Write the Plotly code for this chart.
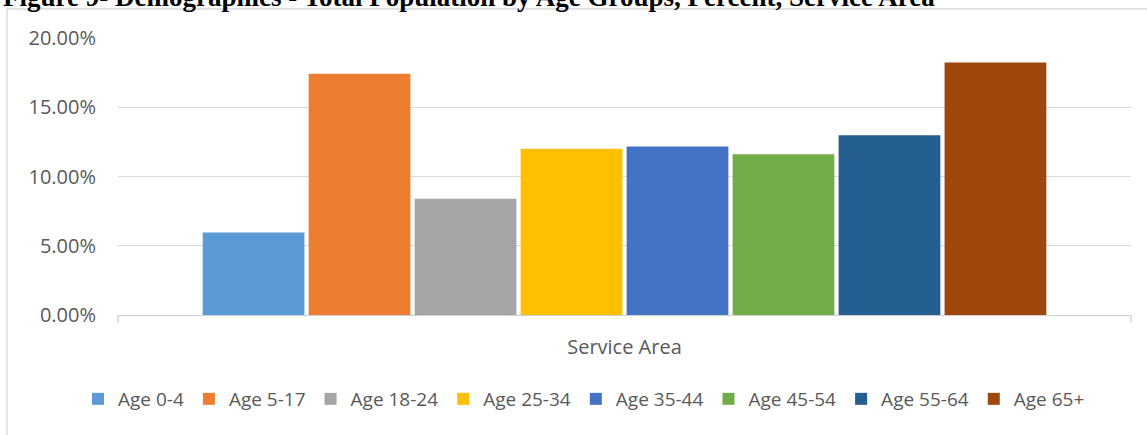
import plotly.graph_objects as go

categories = ["Service Area"]
series_names = ["Age 0-4", "Age 5-17", "Age 18-24", "Age 25-34",
                "Age 35-44", "Age 45-54", "Age 55-64", "Age 65+"]
series_values = [0.0595, 0.1741, 0.0840, 0.1200, 0.1216, 0.1160, 0.1298, 0.1823]
series_colors = ["#5B9BD5", "#ED7D31", "#A5A5A5", "#FFC000",
                 "#4472C4", "#70AD47", "#255E91", "#9E480E"]
y_ticks = [0, 0.05, 0.10, 0.15, 0.20]
title_text = "Figure 9- Demographics - Total Population by Age Groups, Percent, Service Area"

W, H = 1147, 435
L, R, T, B = 118, 16, 38, 120
pw, ph = W - L - R, H - T - B

def px_x(x):
    return (x - L) / pw

def px_y(y):
    return (H - B - y) / ph

fig = go.Figure()
for name, val, col in zip(series_names, series_values, series_colors):
    fig.add_trace(go.Bar(
        x=categories, y=[val], name=name,
        marker=dict(color=col, line=dict(width=0)),
    ))

font_family = "Open Sans, Liberation Sans, sans-serif"
txt_col = "#595959"

fig.update_layout(
    width=W, height=H,
    margin=dict(l=L, r=R, t=T, b=B, autoexpand=False),
    paper_bgcolor="white", plot_bgcolor="white",
    barmode="group", bargap=0.163, bargroupgap=0.04,
    font=dict(family=font_family, size=20, color=txt_col),
    showlegend=True,
    legend=dict(
        orientation="h", xanchor="center", x=px_x(584), yanchor="middle", y=px_y(399),
        font=dict(family=font_family, size=19, color=txt_col),
        itemwidth=30, tracegroupgap=0, traceorder="normal",
        bgcolor="rgba(0,0,0,0)",
    ),
    xaxis=dict(
        showgrid=False, showline=True, linecolor="#d0d0d0", linewidth=1.3,
        ticks="", ticklabelstandoff=14,
        tickfont=dict(family=font_family, size=20, color=txt_col),
        fixedrange=True,
    ),
    yaxis=dict(
        range=[0, 0.2], tickvals=y_ticks, tickformat=".2%",
        showgrid=True, gridcolor="#d9d9d9", gridwidth=1.3,
        zeroline=False, showline=False, ticks="",
        ticklabelstandoff=21,
        tickfont=dict(family=font_family, size=20, color=txt_col),
        fixedrange=True,
    ),
)

# chart frame (left + top border, extending beyond the image)
fig.add_shape(type="rect", xref="paper", yref="paper",
              x0=px_x(7), x1=px_x(1200), y0=px_y(480), y1=px_y(9),
              line=dict(color="#d9d9d9", width=1.3), layer="below")
# category axis end ticks
for xv in (0, 1):
    fig.add_shape(type="line", xref="paper", yref="paper",
                  x0=xv, x1=xv, y0=0, y1=px_y(323),
                  line=dict(color="#d0d0d0", width=1.3))

# partially visible figure caption at the top
fig.add_annotation(text="<b>" + title_text + "</b>", xref="paper", yref="paper",
                   x=px_x(1), y=px_y(14), xanchor="left", yanchor="bottom",
                   showarrow=False,
                   font=dict(family="Liberation Serif, Times New Roman, serif", size=27, color="#000000"))

fig.write_html("out.html",
               config={"displayModeBar": False},
               post_script="document.body.style.margin='0';document.body.style.overflow='hidden';")
